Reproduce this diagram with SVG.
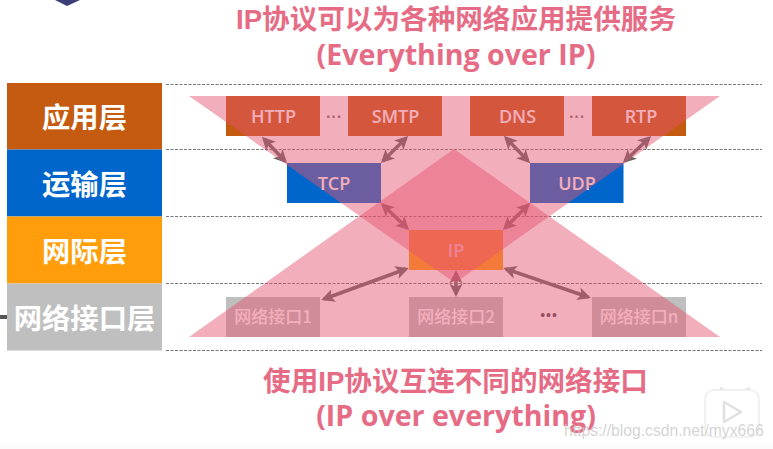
<svg xmlns="http://www.w3.org/2000/svg" width="773" height="449" viewBox="0 0 773 449">
<style>
.cn{font-family:"Liberation Sans","Noto Sans CJK SC",sans-serif;font-weight:700;text-anchor:middle}
.en{font-family:"Open Sans","Noto Sans CJK SC",sans-serif;font-weight:600;text-anchor:middle}
.title{fill:#e66c86;font-size:27.6px}
.titleen{fill:#e66c86;font-size:28.6px;font-weight:700}
.layer{fill:#fff;font-size:28.300px}
.nl{fill:#fff;font-size:18px}
.ifl{fill:#fff;font-size:17px;font-family:"Noto Sans CJK SC",sans-serif;font-weight:500;text-anchor:middle}
.dash{stroke:#777;stroke-width:1;stroke-dasharray:3 1.5;fill:none}
.arr{stroke:#666;stroke-width:3.500;fill:none;marker-start:url(#ah);marker-end:url(#ah)}
.tri{fill:#e5536e;fill-opacity:.47}
.dots{fill:#505058;font-family:"Liberation Sans",sans-serif;text-anchor:middle}
</style>
<defs>
<marker id="ah" viewBox="0 0 10 10" refX="7.750" refY="5" markerWidth="3.800" markerHeight="3.800" orient="auto-start-reverse"><path d="M0 0L10 5L0 10L2.500 5Z" fill="#666"/></marker>
</defs>
<rect width="773" height="449" fill="#fff"/>
<rect x="0" y="444" width="773" height="5" fill="#fbfbfb"/>
<path d="M55 0H80L67 6Z" fill="#3a3f78"/>
<rect x="0" y="315" width="7" height="4" fill="#555"/>
<g id="dashes">
<path class="dash" d="M166 84.500H762M166 149.500H762M166 216.500H762M166 283.500H762M166 350.500H762"/>
</g>
<g id="layer-app"><rect x="7" y="83" width="155" height="66.500" fill="#c55a11"/><text class="cn layer" x="84.500" y="128">应用层</text></g>
<g id="layer-transport"><rect x="7" y="149.500" width="155" height="67" fill="#0066cc"/><text class="cn layer" x="84.500" y="195">运输层</text></g>
<g id="layer-internet"><rect x="7" y="216.500" width="155" height="67" fill="#ff9d0a"/><text class="cn layer" x="84.500" y="262">网际层</text></g>
<g id="layer-link"><rect x="7" y="283.500" width="155" height="67" fill="#bfbfbf"/><text class="cn layer" x="84.500" y="329">网络接口层</text></g>
<g id="connectors">
<path class="arr" d="M264 139L285 161"/>
<path class="arr" d="M406 138L383 161"/>
<path class="arr" d="M506 138L528 161"/>
<path class="arr" d="M649 138L625 161"/>
<path class="arr" d="M383 205L407 228"/>
<path class="arr" d="M528 205L505 228"/>
<path class="arr" d="M406 269L324 299"/>
<path class="arr" d="M456 273V294"/>
<path class="arr" d="M506 269L588 297"/>
</g>
<g id="node-http"><rect x="226" y="96" width="94" height="40" fill="#c55a11"/><text class="en nl" x="273.500" y="122.500">HTTP</text></g>
<g id="node-smtp"><rect x="348" y="96" width="94" height="40" fill="#c55a11"/><text class="en nl" x="395.500" y="122.500">SMTP</text></g>
<g id="node-dns"><rect x="470" y="96" width="94" height="40" fill="#c55a11"/><text class="en nl" x="517.500" y="122.500">DNS</text></g>
<g id="node-rtp"><rect x="592" y="96" width="94" height="40" fill="#c55a11"/><text class="en nl" x="641" y="122.500">RTP</text></g>
<g id="node-tcp"><rect x="287" y="163" width="94" height="40" fill="#0066cc"/><text class="en nl" x="334" y="189.500">TCP</text></g>
<g id="node-udp"><rect x="530" y="163" width="93.500" height="40" fill="#0066cc"/><text class="en nl" x="577" y="189.500">UDP</text></g>
<g id="node-ip"><rect x="409" y="230" width="94" height="40" fill="#ff9d0a"/><text class="en nl" x="456" y="256.500">IP</text></g>
<g id="node-if1"><rect x="226" y="297" width="94" height="40" fill="#bfbfbf"/><text class="ifl" x="273" y="323">网络接口1</text></g>
<g id="node-if2"><rect x="409" y="297" width="94" height="40" fill="#bfbfbf"/><text class="ifl" x="456" y="323">网络接口2</text></g>
<g id="node-ifn"><rect x="592" y="297" width="94" height="40" fill="#bfbfbf"/><text class="ifl" x="639" y="323">网络接口n</text></g>
<text class="dots" x="334" y="122" font-size="16" font-weight="700" fill-opacity=".8">···</text>
<text class="dots" x="577" y="122" font-size="16" font-weight="700" fill-opacity=".8">···</text>
<text class="dots" x="549" y="320" font-size="14" letter-spacing="1">•••</text>
<g id="overlays">
<polygon class="tri" points="189,96 720,96 455,283"/>
<polygon class="tri" points="189,337 720,337 454,149"/>
</g>
<g id="titles">
<text class="cn title" x="456" y="29">IP协议可以为各种网络应用提供服务</text>
<text class="en titleen" x="456" y="65">(Everything over IP)</text>
<text class="cn title" x="455.500" y="391">使用IP协议互连不同的网络接口</text>
<text class="en titleen" x="456" y="426">(IP over everything)</text>
</g>
<g id="watermark">
<path d="M720 388L728 392M750 388L742 392" stroke="#e8e8e8" stroke-width="3" fill="none"/>
<rect x="705" y="390" width="54" height="47" rx="9" fill="#fff" stroke="#ededed" stroke-width="1.500"/>
<path d="M724 402L741 412L724 422Z" fill="#fff" stroke="#e0e0e0" stroke-width="2.500" stroke-linejoin="round"/>
<text x="564" y="436" font-family="Liberation Sans,sans-serif" font-size="15.700" fill="#c9c9c9" fill-opacity=".8">https://blog.csdn.net/myx666</text>
</g>
</svg>
